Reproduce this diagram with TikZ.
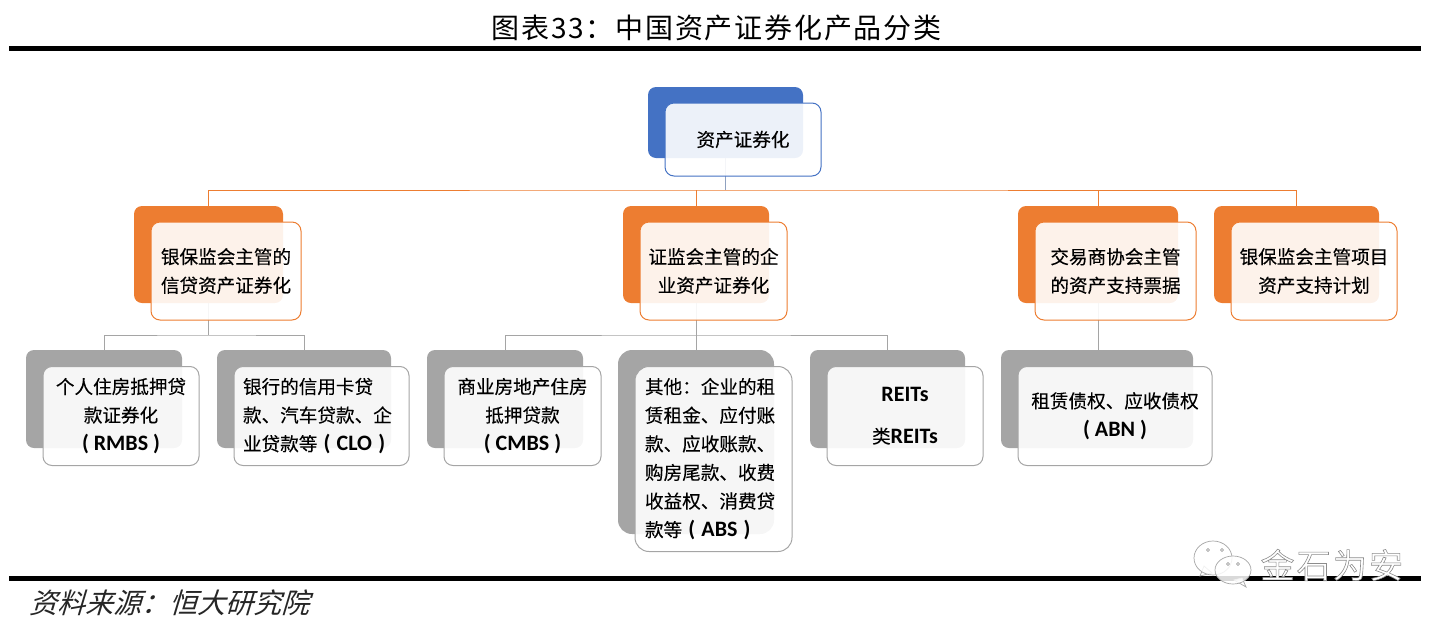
\documentclass[tikz,border=0pt]{standalone}
\usepackage{fontspec}
\setmainfont{Noto Sans CJK SC}
\newfontfamily\latinbold[BoldFont=Carlito Bold]{Carlito}
\newfontfamily\slantcjk[FakeSlant=0.3]{Noto Sans CJK SC}
\newfontfamily\titlecjk[LetterSpace=6.4]{Noto Sans CJK SC}
\newfontfamily\boxcjk[FakeBold=0.15]{Noto Sans CJK SC}
\newcommand{\lat}[1]{{\latinbold\bfseries\fontsize{22}{28.6}\selectfont #1}}
\definecolor{bluedark}{RGB}{68,114,196}
\definecolor{orangedark}{RGB}{237,125,49}
\definecolor{greydark}{RGB}{165,165,165}
\tikzset{
  backbox/.style={rectangle,rounded corners=8,inner sep=0pt,outer sep=0pt},
  frontbox/.style={rectangle,rounded corners=9,outer sep=0pt,fill=white,fill opacity=0.9,text opacity=1,line width=1pt,
    inner sep=0pt,align=center,font=\boxcjk\fontsize{18.6}{28.6}\selectfont},
  leftbox/.style={frontbox,align=left},
  rootline/.style={line width=0.8pt,draw=bluedark!55!gray!70},
  orangeline/.style={line width=1pt,draw=orangedark},
  greyline/.style={line width=1pt,draw=greydark},
  rulebar/.style={line width=5pt,draw=black},
  bubble/.style={draw=black!35,line width=0.7pt,fill=white,fill opacity=0.85},
  bubbledot/.style={draw=black!45,line width=0.6pt,fill=white}
}
\begin{document}
\begin{tikzpicture}[x=1pt,y=-1pt]
\useasboundingbox (0,0) rectangle (1449,630);
% title and rules
\node[font=\titlecjk\fontsize{28}{32}\selectfont](title)at(716.5,28){图表33：中国资产证券化产品分类};
\coordinate(topa)at(9,48.5);
\coordinate(topb)at(1421,48.5);
\coordinate(bota)at(9,578.5);
\coordinate(botb)at(1421,578.5);
\draw[rulebar](topa)--(topb);
\draw[rulebar](bota)--(botb);
\node[font=\fontsize{28}{32}\slantcjk,text=black!85,anchor=west](source)at(26,603){资料来源：恒大研究院};
% back boxes
\node[backbox,fill=bluedark,minimum width=155,minimum height=71](rootback)at(725.5,122.5){};
\node[backbox,fill=orangedark,minimum width=149,minimum height=97](bankback)at(208.5,254.5){};
\node[backbox,fill=orangedark,minimum width=146,minimum height=97](csrcback)at(696,254.5){};
\node[backbox,fill=orangedark,minimum width=160,minimum height=97](nafmiiback)at(1098,254.5){};
\node[backbox,fill=orangedark,minimum width=165,minimum height=97](planback)at(1296.5,254.5){};
\node[backbox,fill=greydark,minimum width=156,minimum height=98](rmbsback)at(104,399){};
\node[backbox,fill=greydark,minimum width=174,minimum height=98](cloback)at(304,399){};
\node[backbox,fill=greydark,minimum width=156,minimum height=98](cmbsback)at(505,399){};
\node[backbox,fill=greydark,rounded corners=14,minimum width=156,minimum height=184](absback)at(696,442){};
\node[backbox,fill=greydark,minimum width=155,minimum height=98](reitsback)at(887.5,399){};
\node[backbox,fill=greydark,minimum width=192,minimum height=98](abnback)at(1097,399){};
% connectors
\coordinate(rootbus)at(725.5,190);
\coordinate(bankbus)at(208.5,335);
\coordinate(csrcbus)at(696,335);
\draw[rootline](rootback.south)--(rootbus);
\draw[orangeline](bankback.north)|-(rootbus)-|(planback.north);
\draw[orangeline](csrcback.north)--(csrcback.north|-rootbus);
\draw[orangeline](nafmiiback.north)--(nafmiiback.north|-rootbus);
\draw[greyline](bankback.south)--(bankbus);
\draw[greyline](rmbsback.north)|-(bankbus)-|(cloback.north);
\draw[greyline](csrcback.south)--(csrcbus);
\draw[greyline](cmbsback.north)|-(csrcbus)-|(reitsback.north);
\draw[greyline](absback.north)--(csrcbus);
\draw[greyline](nafmiiback.south)--(nafmiiback.south|-abnback.north);
% front boxes
\node[frontbox,draw=bluedark,minimum width=156,minimum height=73](root)at(743,139.5){资产证券化};
\node[frontbox,draw=orangedark,minimum width=150,minimum height=98](bank)at(226,271){银保监会主管的\\信贷资产证券化};
\node[frontbox,draw=orangedark,minimum width=147,minimum height=98](csrc)at(713.5,271){证监会主管的企\\业资产证券化};
\node[frontbox,draw=orangedark,minimum width=161,minimum height=98](nafmii)at(1115.5,271){交易商协会主管\\的资产支持票据};
\node[frontbox,draw=orangedark,minimum width=166,minimum height=98](plan)at(1314,271){银保监会主管项目\\资产支持计划};
\node[frontbox,draw=greydark,minimum width=156,minimum height=99](rmbs)at(121,416){个人住房抵押贷\\款证券化\\\lat{( RMBS )}};
\node[leftbox,draw=greydark,minimum width=175,minimum height=99,inner xsep=9,text width=157](clo)at(321.5,416){银行的信用卡贷\\款、汽车贷款、企\\业贷款等\lat{ ( CLO )}};
\node[frontbox,draw=greydark,minimum width=157,minimum height=99](cmbs)at(522.5,416){商业房地产住房\\抵押贷款\\\lat{( CMBS )}};
\node[leftbox,draw=greydark,rounded corners=14,minimum width=157,minimum height=185,inner xsep=10,text width=137](abs)at(713.5,459){其他：企业的租\\赁租金、应付账\\款、应收账款、\\购房尾款、收费\\收益权、消费贷\\款等\lat{ ( ABS )}};
\node[frontbox,draw=greydark,minimum width=156,minimum height=99](reits)at(905,416){\lat{REITs}\\[13pt]类\lat{REITs}};
\node[frontbox,draw=greydark,minimum width=194,minimum height=99](abn)at(1115,416){租赁债权、应收债权\\\lat{( ABN )}};
% watermark
\draw[bubble](1200,576)--(1204,566)--(1212,573)--cycle;
\draw[bubble](1213,558)ellipse(19 and 17);
\draw[bubble](1246,587)--(1234,580)--(1242,578)--cycle;
\draw[bubble](1233,570)ellipse(18 and 14);
\draw[bubbledot](1208,550)circle(1.5);
\draw[bubbledot](1222,550)circle(1.5);
\draw[bubbledot](1228,564)circle(1.5);
\draw[bubbledot](1238,564)circle(1.5);
\node[font=\titlecjk\fontsize{34}{36}\selectfont,text=white,anchor=west](mark)at(1257,565){\special{pdf:code 2 Tr 0.6 w 0.55 G}金石为安\special{pdf:code 0 Tr 0 G}};
\end{tikzpicture}
\end{document}
